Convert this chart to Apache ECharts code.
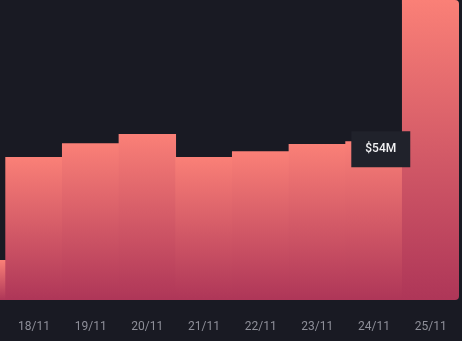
<!DOCTYPE html>
<html>
<head>
<meta charset="utf-8">
<script src="https://cdn.jsdelivr.net/npm/echarts@6/dist/echarts.min.js"></script>
<style>
html,body{margin:0;padding:0;background:#191a23;overflow:hidden;width:462px;height:341px;}
#c{position:absolute;left:-51px;top:0;width:513px;height:341px;}
</style>
</head>
<body>
<div id="c"></div>
<script>
// Data (values in $M)
var categories = ['17/11','18/11','19/11','20/11','21/11','22/11','23/11','24/11','25/11'];
var values = [13.6, 48.6, 53.3, 56.4, 48.6, 50.6, 53.0, 54, 102];
var highlightIndex = 7;
var highlightLabel = '$54M';
var yMax = 102;

var chart = echarts.init(document.getElementById('c'), null, {renderer:'canvas'});

var grad = new echarts.graphic.LinearGradient(0,0,0,1,[
  {offset:0,color:'#fa8077'},
  {offset:1,color:'#ae3658'}
]);

var data = values.map(function(v,i){
  var item = {value:v};
  if (i === values.length-1) {
    item.itemStyle = {borderRadius:[0,4,4,0]};
  }
  if (i === highlightIndex) {
    item.label = {
      show:true,
      position:[6,-10],
      align:'left',
      verticalAlign:'top',
      formatter: highlightLabel,
      color:'#f2f2f4',
      fontSize:12,
      fontFamily:'Roboto',
      fontWeight:500,
      lineHeight:16,
      backgroundColor:'#20222b',
      padding:[10,14,10,14]
    };
  }
  return item;
});

chart.setOption({
  backgroundColor:'#191a23',
  animation:false,
  grid:{left:0, right:3, top:0, bottom:41, containLabel:false},
  xAxis:{
    type:'category',
    data:categories,
    axisLine:{show:false},
    axisTick:{show:false},
    axisLabel:{color:'#8e8f99', fontSize:12, fontFamily:'Roboto', margin:21}
  },
  yAxis:{
    type:'value', min:0, max:yMax, show:false,
    splitLine:{show:false}
  },
  series:[{
    type:'bar',
    data:data,
    barWidth:57.4,
    itemStyle:{color:grad},
    label:{show:false}
  }]
});
</script>
</body>
</html>
